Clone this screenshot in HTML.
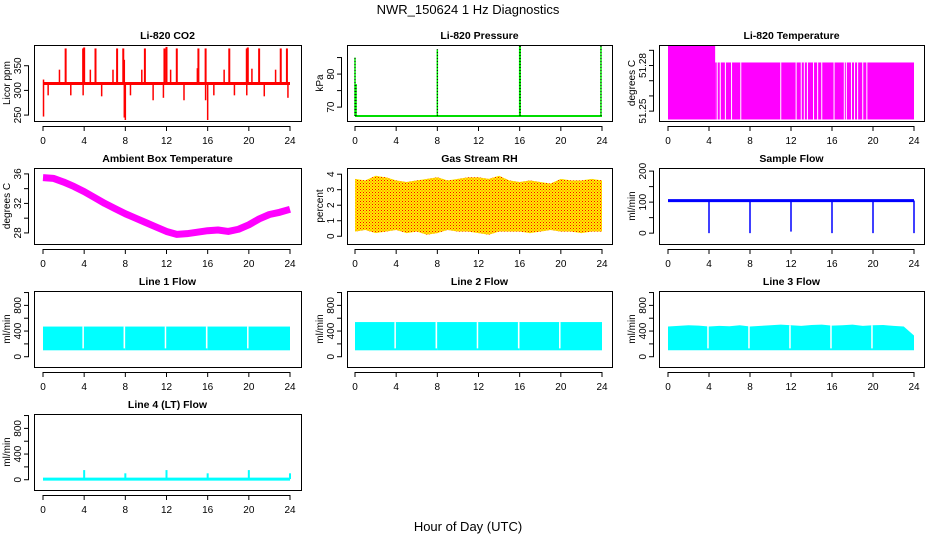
<!DOCTYPE html>
<html><head><meta charset="utf-8"><style>
html,body{margin:0;padding:0;background:#fff}
svg{display:block}
text{font-family:"Liberation Sans",sans-serif;fill:#000}
</style></head><body>
<svg id="chart" width="936" height="540" xmlns="http://www.w3.org/2000/svg">
<text x="468" y="14" text-anchor="middle" font-size="13">NWR_150624  1 Hz Diagnostics</text>
<text x="468" y="531" text-anchor="middle" font-size="13">Hour of Day (UTC)</text>
<defs>
<pattern id="rhdots" width="3" height="3" patternUnits="userSpaceOnUse"><rect width="3" height="3" fill="#ffee00"/><rect width="1" height="1" fill="#ff0000"/><rect x="1.5" y="1.5" width="1" height="1" fill="#ff4400"/></pattern>
</defs>
</svg>
<script>
// ---- data ----
const xTicks=[0,4,8,12,16,20,24];
// CO2
const co2Base=314;
const co2UpT=[2.2,3.9,4.0,5.1,7.2,7.8,9.9,11.8,12.0,13.0,15.1,15.8,18.1,19.8,19.9,21.0,23.1,23.7];
const co2UpV=[385,385,387,385,385,385,385,385,388,385,385,385,385,385,387,385,385,385];
const co2MidT=[0.05,1.6,4.6,6.8,7.9,9.6,12.4,15.0,17.6,20.3,22.6];
const co2MidV=[322,342,342,342,362,342,342,345,342,344,342];
const co2DnT=[0.05,0.5,2.7,3.9,5.7,7.9,8.0,8.5,10.7,11.7,13.7,15.8,16.0,16.6,18.6,19.8,21.5,23.8];
const co2DnV=[247,290,290,290,288,245,240,290,280,285,280,280,240,290,290,290,288,285];
// Pressure
const presBase=67.3;
const presSpT=[0.0,0.1,8.0,16.0,16.05,23.9];
const presSpV=[85,77,87.5,88.5,88.5,88.5];
// Li-820 temperature
const ltSegT=[0,4.6,24];
const ltHigh=[51.2935,51.282];
const ltLow=51.2445;
const ltGapT=[4.8,5.1,5.6,6.2,7.1,11.0,12.5,13.0,13.3,13.6,14.2,14.6,15.0,16.2,17.2,17.4,17.9,18.2,18.5,19.0,19.4];
// Ambient
const ambT=[0,1,2,3,4,5,6,7,8,9,10,11,12,13,14,15,16,17,18,19,20,21,22,23,24];
const ambV=[35.5,35.4,34.9,34.3,33.6,32.8,32.0,31.3,30.6,30.0,29.4,28.8,28.2,27.8,27.9,28.1,28.3,28.4,28.2,28.5,29.1,29.9,30.5,30.8,31.2];
// Gas RH
const rhT=[0,1,2,3,4,5,6,7,8,9,10,11,12,13,14,15,16,17,18,19,20,21,22,23,24];
const rhHi=[3.7,3.6,3.9,3.8,3.6,3.5,3.6,3.7,3.8,3.6,3.7,3.8,3.8,3.7,3.9,3.6,3.5,3.6,3.5,3.4,3.7,3.6,3.6,3.7,3.6];
const rhLo=[0.3,0.4,0.2,0.3,0.4,0.2,0.3,0.1,0.2,0.4,0.3,0.3,0.2,0.1,0.3,0.3,0.3,0.2,0.3,0.4,0.3,0.3,0.2,0.3,0.3];
// Sample flow
const sfBase=105;
const sfDropT=[4,8,12,16,20,24];
const sfDropV=[0,0,5,0,0,0];
// Line flows
const l1Lo=[100,100,100];const l1Hi=[470,470,470];
const l2Hi=[540,540,540];
const l3Hi=[490,495,500];
const l3Top=[470,480,490,485,470,480,475,490,470,480,490,500,490,480,495,500,485,490,500,480,490,495,480,470,330];
const gapT=[3.9,7.9,11.9,15.9,19.9];
const l4Base=10;
const l4SpT=[4,8,12,16,20,24];
const l4SpV=[150,100,150,100,150,100];

// ---- layout ----
const cols=[[34,301,43,290],[347,612,355,602],[659,924,668,914]];
const rows=[45,168,291,414];
const H=76;
const svg=document.getElementById('chart');
const NS='http://www.w3.org/2000/svg';
function el(tag,attrs,parent){const e=document.createElementNS(NS,tag);for(const k in attrs)e.setAttribute(k,attrs[k]);(parent||svg).appendChild(e);return e;}

function panel(ci,ri,title,ylab,ymin,ymax,yticks,ylabels,name){
  const [bl,br,x0,x24]=cols[ci];const top=rows[ri],bot=top+H;
  const g=el('g',{});
  
  
  const xs=t=>x0+(x24-x0)*t/24;
  const ys=v=>bot-(v-ymin)/(ymax-ymin)*H;
  const t=el('text',{x:(bl+br)/2,y:top-6,'text-anchor':'middle','font-size':'10.5','font-weight':'bold'},g);t.textContent=title;
  
  
  const yl=el('text',{x:0,y:0,'text-anchor':'middle','font-size':'10',transform:`translate(${bl-24},${(top+bot)/2}) rotate(-90)`},g);yl.textContent=ylab;
  
  
  const plot=el('g',{},g);
  el('line',{x1:xs(0),x2:xs(24),y1:bot+5.5,y2:bot+5.5,stroke:'#000'},g);
  xTicks.forEach(v=>{el('line',{x1:xs(v),x2:xs(v),y1:bot+5,y2:bot+10,stroke:'#000'},g);
    const tx=el('text',{x:xs(v),y:bot+23,'text-anchor':'middle','font-size':'10'},g);tx.textContent=v;
    
    });
  el('line',{x1:bl-5.5,x2:bl-5.5,y1:ys(yticks[0]),y2:ys(yticks[yticks.length-1]),stroke:'#000'},g);
  yticks.forEach(v=>el('line',{x1:bl-10,x2:bl-5,y1:ys(v),y2:ys(v),stroke:'#000'},g));
  ylabels.forEach(v=>{const tx=el('text',{x:0,y:0,'text-anchor':'middle','font-size':'10',transform:`translate(${bl-13},${ys(v)}) rotate(-90)`},g);tx.textContent=v;
    
    });
  el('rect',{x:bl+0.5,y:top+0.5,width:br-bl,height:H,fill:'none',stroke:'#000'},g);
  return {plot,xs,ys,top,bot};
}
function vline(p,t,v1,v2,col,w){return el('line',{x1:p.xs(t),x2:p.xs(t),y1:p.ys(v1),y2:p.ys(v2),stroke:col,'stroke-width':w||1.5},p.plot);}

// CO2
let p=panel(0,0,'Li-820 CO2','Licor ppm',238,392,[250,300,350],[250,300,350],'co2');
el('line',{x1:p.xs(0),x2:p.xs(24),y1:p.ys(co2Base),y2:p.ys(co2Base),stroke:'#ff0000','stroke-width':3},p.plot);
co2UpT.forEach((t,i)=>vline(p,t,co2Base,co2UpV[i],'#ff0000',2));
co2MidT.forEach((t,i)=>vline(p,t,co2Base,co2MidV[i],'#ff0000',1.5));
co2DnT.forEach((t,i)=>vline(p,t,co2Base,co2DnV[i],'#ff0000',1.5));

// Pressure
p=panel(1,0,'Li-820 Pressure','kPa',65.8,88.8,[70,75,80,85],[70,80],'pressure');
el('line',{x1:p.xs(0),x2:p.xs(24),y1:p.ys(presBase),y2:p.ys(presBase),stroke:'#00dd00','stroke-width':2},p.plot);
presSpT.forEach((t,i)=>{vline(p,t,presBase,presSpV[i],'#00ee00',1.5);
  el('line',{x1:p.xs(t),x2:p.xs(t),y1:p.ys(presBase),y2:p.ys(presSpV[i]),stroke:'#000','stroke-width':1,'stroke-dasharray':'1 2'},p.plot);});

// Li-820 Temperature
p=panel(2,0,'Li-820 Temperature','degrees C',51.2435,51.2935,[51.25,51.26,51.27,51.28,51.29],[51.25,51.28],'li820-temp');
for(let i=0;i<ltHigh.length;i++){el('rect',{x:p.xs(ltSegT[i]),y:p.ys(ltHigh[i]),width:p.xs(ltSegT[i+1])-p.xs(ltSegT[i]),height:p.ys(ltLow)-p.ys(ltHigh[i]),fill:'#ff00ff'},p.plot);}
ltGapT.forEach(t=>el('line',{x1:p.xs(t),x2:p.xs(t),y1:p.ys(ltHigh[t<ltSegT[1]?0:1]),y2:p.ys(ltLow),stroke:'#fff','stroke-width':1},p.plot));

// Ambient
p=panel(0,1,'Ambient Box Temperature','degrees C',26.5,36.8,[28,30,32,34,36],[28,32,36],'ambient-temp');
el('polyline',{points:ambT.map((t,i)=>p.xs(t)+','+p.ys(ambV[i])).join(' '),fill:'none',stroke:'#ff00ff','stroke-width':7,'stroke-linejoin':'round'},p.plot);

// Gas RH
p=panel(1,1,'Gas Stream RH','percent',-0.5,4.4,[0,1,2,3,4],[0,1,2,3,4],'gas-rh');
el('polygon',{points:rhT.map((t,i)=>p.xs(t)+','+p.ys(rhHi[i])).concat(rhT.slice().reverse().map((t,j)=>{const i=rhT.length-1-j;return p.xs(t)+','+p.ys(rhLo[i]);})).join(' '),fill:'url(#rhdots)'},p.plot);

// Sample flow
p=panel(2,1,'Sample Flow','ml/min',-35,210,[0,50,100,150,200],[0,100,200],'sample-flow');
el('line',{x1:p.xs(0),x2:p.xs(24),y1:p.ys(sfBase),y2:p.ys(sfBase),stroke:'#0000ff','stroke-width':3},p.plot);
sfDropT.forEach((t,i)=>vline(p,t,sfBase,sfDropV[i],'#0000ff',1.5));

// Line flows
function flowPanel(ci,ri,title,hi,name,top){
  const q=panel(ci,ri,title,'ml/min',-160,1024,[0,200,400,600,800,1000],[0,400,800],name);
  const seg=[0,8,16,24];
  if(top){
    const pts=top.map((v,i)=>q.xs(i)+','+q.ys(v)).concat([q.xs(24)+','+q.ys(100),q.xs(0)+','+q.ys(100)]);
    el('polygon',{points:pts.join(' '),fill:'#00ffff'},q.plot);
  } else {
    for(let i=0;i<3;i++)el('rect',{x:q.xs(seg[i]),y:q.ys(hi[i]),width:q.xs(seg[i+1])-q.xs(seg[i]),height:q.ys(l1Lo[i])-q.ys(hi[i]),fill:'#00ffff'},q.plot);
  }
  gapT.forEach(t=>el('line',{x1:q.xs(t),x2:q.xs(t),y1:q.ys(hi[0]),y2:q.ys(130),stroke:'#fff','stroke-width':1.5},q.plot));
  return q;
}
flowPanel(0,2,'Line 1 Flow',l1Hi,'line1-flow');
flowPanel(1,2,'Line 2 Flow',l2Hi,'line2-flow');
flowPanel(2,2,'Line 3 Flow',l3Hi,'line3-flow',l3Top);
p=panel(0,3,'Line 4 (LT) Flow','ml/min',-160,1024,[0,200,400,600,800,1000],[0,400,800],'line4-flow');
el('line',{x1:p.xs(0),x2:p.xs(24),y1:p.ys(l4Base),y2:p.ys(l4Base),stroke:'#00ffff','stroke-width':3},p.plot);
l4SpT.forEach((t,i)=>vline(p,t,l4Base,l4SpV[i],'#00ffff',2));
</script>
</body></html>
